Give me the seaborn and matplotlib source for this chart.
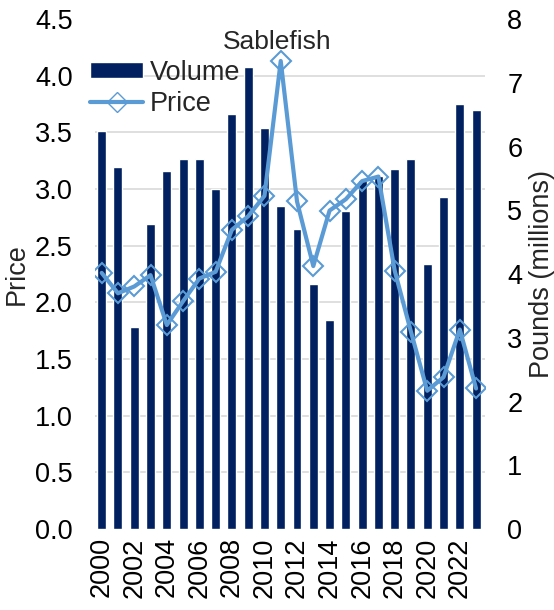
import numpy as np
import pandas as pd
import matplotlib
matplotlib.use("Agg")
import matplotlib.pyplot as plt
import seaborn as sns
from matplotlib.patches import Patch
from matplotlib.lines import Line2D

years = list(range(2000, 2024))
volume = [6.25, 5.68, 3.17, 4.78, 5.62, 5.81, 5.81, 5.34, 6.51, 7.25, 6.29, 5.06,
          4.71, 3.84, 3.28, 4.99, 5.48, 5.53, 5.65, 5.81, 4.15, 5.21, 6.66, 6.57]
price = [2.26, 2.08, 2.14, 2.24, 1.80, 2.01, 2.21, 2.27, 2.64, 2.76, 2.94, 4.13,
         2.89, 2.32, 2.81, 2.91, 3.07, 3.11, 2.28, 1.74, 1.22, 1.34, 1.76, 1.24]
price_ticks = [0.0, 0.5, 1.0, 1.5, 2.0, 2.5, 3.0, 3.5, 4.0, 4.5]
volume_ticks = [0, 1, 2, 3, 4, 5, 6, 7, 8]
year_labels = [str(y) for y in years[::2]]

bar_color = "#002060"
line_color = "#5B9BD5"
fs = 19.5

df = pd.DataFrame({"Year": years, "Volume": volume, "Price": price})

sns.set_style("white")
plt.rcParams["font.family"] = ["Liberation Sans", "DejaVu Sans"]
plt.rcParams["font.size"] = fs

fig = plt.figure(figsize=(5.54, 6.10), dpi=100)
ax = fig.add_axes([0.1715, 0.1328, 0.704, 0.836])  # bars (volume)
ax2 = ax.twinx()                                  # line (price)

# bars on the primary axes, right-hand scale
sns.barplot(data=df, x="Year", y="Volume", ax=ax, color=bar_color,
            width=0.55, native_scale=True, saturation=1)
ax.set_ylim(0, 8)
ax.set_yticks(volume_ticks)
ax.yaxis.tick_right()
ax.yaxis.set_label_position("right")
ax.set_ylabel("Pounds (millions)", fontsize=fs)

# grid at the price tick levels, kept behind the bars
ax.set_yticks([p * 8 / 4.5 for p in price_ticks], minor=True)
ax.grid(False)
ax.grid(True, which="minor", axis="y", color="#d9d9d9", linewidth=1.2)
ax.set_axisbelow(True)

# price line on the twin axes, left-hand scale
sns.lineplot(data=df, x="Year", y="Price", ax=ax2, color=line_color,
             linewidth=3, marker="D", markersize=10, markerfacecolor="none",
             markeredgecolor=line_color, markeredgewidth=1.5)
ax2.set_ylim(0, 4.5)
ax2.set_yticks(price_ticks)
ax2.set_yticklabels([f"{p:.1f}" for p in price_ticks])
ax2.yaxis.tick_left()
ax2.yaxis.set_label_position("left")
ax2.set_ylabel("Price", fontsize=fs)

ax.set_xlim(1999.59, 2023.55)
ax.set_xticks(years[::2])
ax.set_xticklabels(year_labels, rotation=90)
ax.set_xlabel("")

for a in (ax, ax2):
    for s in a.spines.values():
        s.set_visible(False)
    a.tick_params(length=0, labelsize=fs, colors="black", which="both")
ax.tick_params(axis="y", which="major", pad=16)
ax2.tick_params(axis="y", pad=16)
ax.tick_params(axis="x", pad=6)

ax.yaxis.labelpad = 5
ax2.yaxis.labelpad = 4

handles = [Patch(facecolor=bar_color, label="Volume"),
           Line2D([0], [0], color=line_color, linewidth=3, marker="D",
                  markersize=10, markerfacecolor="none",
                  markeredgecolor=line_color, label="Price")]
ax2.legend(handles=handles, loc="upper left", bbox_to_anchor=(-0.012, 0.92),
           frameon=False, fontsize=fs, handlelength=1.95, handleheight=0.55,
           labelspacing=0.2, handletextpad=0.25, borderaxespad=0, borderpad=0)

fig.text(0.5, 1 - 42 / 610, "Sablefish", ha="center", va="center", fontsize=19)

fig.savefig("out.png", dpi=100)
